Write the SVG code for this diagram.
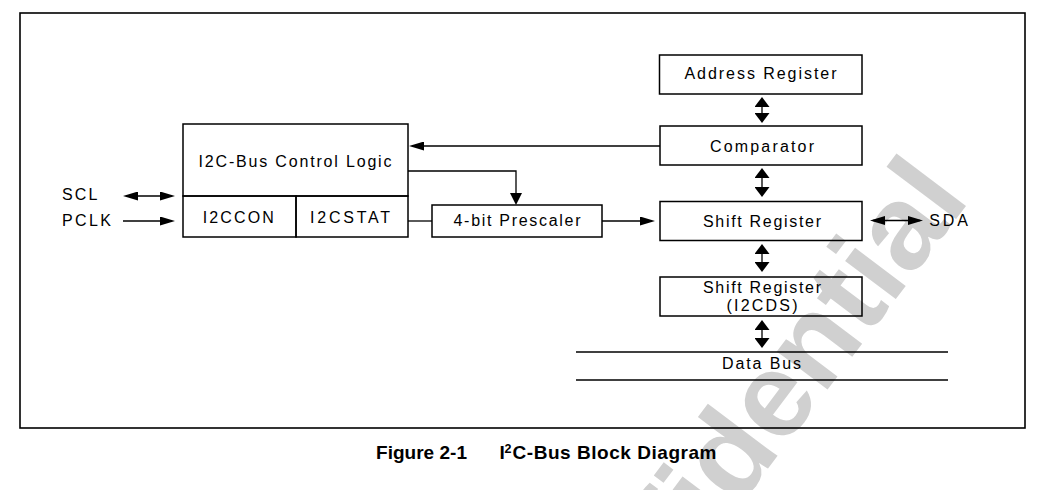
<svg xmlns="http://www.w3.org/2000/svg" width="1047" height="490" viewBox="0 0 1047 490">
<style>
  .box { fill: none; stroke: #000; stroke-width: 1.5; }
  .ln { fill: none; stroke: #000; stroke-width: 1.3; }
  .t { font-family: "Liberation Sans", Arial, sans-serif; font-size: 16px; fill: #000; }
  .cap { font-family: "Liberation Sans", Arial, sans-serif; font-size: 19px; font-weight: bold; fill: #000; }
  .wm { font-family: "Liberation Sans", Arial, sans-serif; font-size: 120px; font-weight: bold; fill: #d0d0d0; }
</style>
<defs>
  <marker id="ah" markerUnits="userSpaceOnUse" viewBox="0 0 15 9" markerWidth="15" markerHeight="9" refX="12" refY="4.5" orient="auto-start-reverse">
    <path d="M0,0 L15,4.5 L0,9 Z" fill="#000"/>
  </marker>
  <marker id="av" markerUnits="userSpaceOnUse" viewBox="0 0 10 15" markerWidth="10" markerHeight="15" refX="8" refY="7.5" orient="auto-start-reverse">
    <path d="M0,0 L10,7.5 L0,15 Z" fill="#000"/>
  </marker>
  <marker id="avs" markerUnits="userSpaceOnUse" viewBox="0 0 12 12" markerWidth="12" markerHeight="12" refX="10" refY="6" orient="auto">
    <path d="M0,0 L12,6 L0,12 Z" fill="#000"/>
  </marker>
</defs>
<rect width="1047" height="490" fill="#fff"/>
<g id="watermark">
  <text class="wm" transform="translate(553.8,752.8) rotate(-53)">Confidential</text>
</g>
<rect id="frame" x="20" y="13" width="1005" height="415" fill="none" stroke="#000" stroke-width="1.6"/>

<g id="control-logic">
  <rect class="box" x="183" y="124" width="225" height="72"/>
  <text class="t" x="198.5" y="167" textLength="193">I2C-Bus Control Logic</text>
</g>
<g id="i2ccon">
  <rect class="box" x="183" y="196" width="113" height="41"/>
  <text class="t" x="202.8" y="222.5" textLength="71">I2CCON</text>
</g>
<g id="i2cstat">
  <rect class="box" x="296" y="196" width="112" height="41"/>
  <text class="t" x="310" y="222.5" textLength="80">I2CSTAT</text>
</g>
<g id="scl">
  <text class="t" x="62" y="200" textLength="35.5">SCL</text>
</g>
<g id="pclk">
  <text class="t" x="62" y="226" textLength="49">PCLK</text>
</g>
<g id="prescaler">
  <rect class="box" x="432" y="205" width="170" height="32"/>
  <text class="t" x="453.5" y="226" textLength="127">4-bit Prescaler</text>
</g>
<g id="address-register">
  <rect class="box" x="659.5" y="55" width="202.5" height="39"/>
  <text class="t" x="684.5" y="79" textLength="152">Address Register</text>
</g>
<g id="comparator">
  <rect class="box" x="660" y="126" width="202" height="39"/>
  <text class="t" x="710" y="151.5" textLength="104">Comparator</text>
</g>
<g id="shift-register">
  <rect class="box" x="660" y="201.5" width="202" height="39"/>
  <text class="t" x="703" y="227" textLength="118">Shift Register</text>
</g>
<g id="sda">
  <text class="t" x="929.3" y="226" textLength="38.5">SDA</text>
</g>
<g id="shift-register-i2cds">
  <rect class="box" x="660" y="277" width="202" height="39"/>
  <text class="t" x="703" y="293" textLength="118">Shift Register</text>
  <text class="t" x="726.5" y="310.5" textLength="71">(I2CDS)</text>
</g>
<g id="data-bus">
  <line class="ln" x1="576" y1="352" x2="948" y2="352"/>
  <line class="ln" x1="576" y1="380" x2="948" y2="380"/>
  <text class="t" x="722" y="369" textLength="79">Data Bus</text>
</g>

<g id="connectors" class="ln">
  <line x1="126" y1="196" x2="172" y2="196" marker-start="url(#ah)" marker-end="url(#ah)"/>
  <line x1="123" y1="221" x2="172" y2="221" marker-end="url(#ah)"/>
  <line x1="660" y1="146" x2="412" y2="146" marker-end="url(#ah)"/>
  <polyline points="408,171 516,171 516,203" marker-end="url(#avs)"/>
  <line x1="408" y1="221" x2="432" y2="221"/>
  <line x1="602" y1="221" x2="652" y2="221" marker-end="url(#ah)"/>
  <line x1="873" y1="220.5" x2="920" y2="220.5" marker-start="url(#ah)" marker-end="url(#ah)"/>
  <line x1="762" y1="99" x2="762" y2="121" marker-start="url(#av)" marker-end="url(#av)"/>
  <line x1="762" y1="170" x2="762" y2="195" marker-start="url(#av)" marker-end="url(#av)"/>
  <line x1="762" y1="246" x2="762" y2="270" marker-start="url(#av)" marker-end="url(#av)"/>
  <line x1="762" y1="322" x2="762" y2="346" marker-start="url(#av)" marker-end="url(#av)"/>
</g>

<g id="caption">
  <text class="cap" x="376" y="459" textLength="91">Figure 2-1</text>
  <text class="cap" x="499.5" y="459">I</text>
  <text class="cap" x="504.5" y="452.5" style="font-size:12.5px">2</text>
  <text class="cap" x="512.5" y="459" textLength="204">C-Bus Block Diagram</text>
</g>
</svg>
